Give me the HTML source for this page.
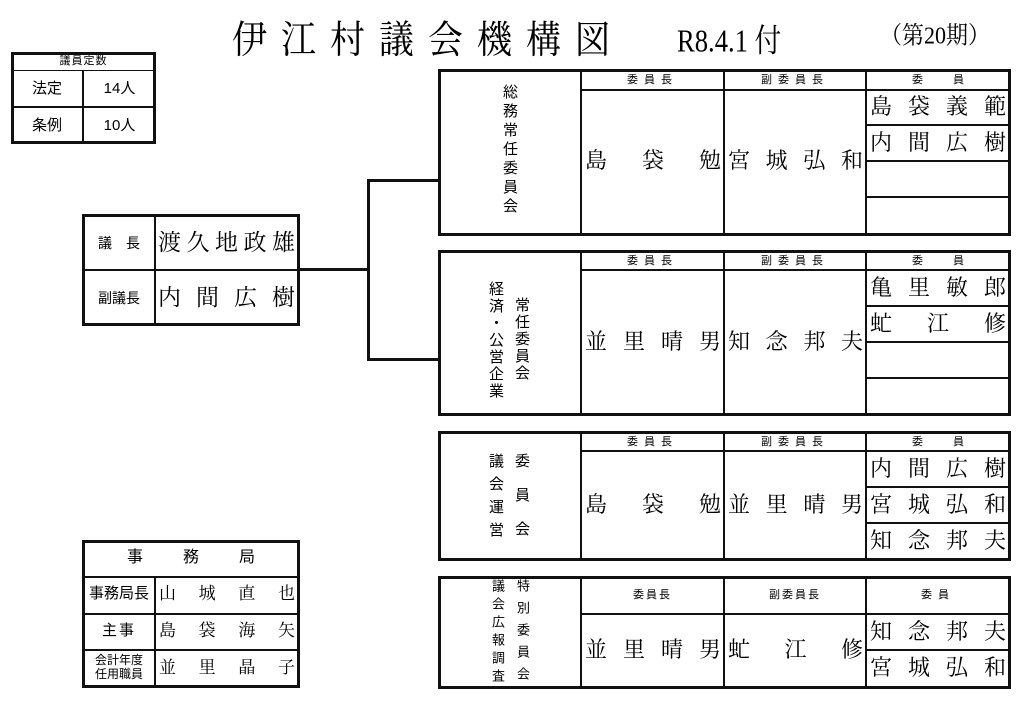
<!DOCTYPE html>
<html><head><meta charset="utf-8"><style>
body{margin:0;width:1022px;height:702px;background:#fff;position:relative;overflow:hidden;font-family:"Liberation Sans","Noto Sans CJK JP",sans-serif;color:#000}
div{position:absolute;box-sizing:border-box}
.b{border:3px solid #111}
.h{height:2px;background:#111}
.v{width:2px;background:#111}
.s{font-family:"Liberation Serif","Noto Serif CJK JP",serif}
.n{display:flex;justify-content:space-between;align-items:center;font-family:"Liberation Serif","Noto Serif CJK JP",serif;font-size:22px;line-height:1}
.hd{font-size:11px;text-align:center;letter-spacing:6px;line-height:1}
.vt{writing-mode:vertical-rl;font-size:15px;line-height:1}
.l{font-size:14px;text-align:center;line-height:1}
</style></head><body>
<!-- title -->
<div class="s" style="left:232px;top:10px;font-size:35px;letter-spacing:14px;white-space:nowrap;transform:scaleY(1.1);transform-origin:left top">伊江村議会機構図</div>
<div class="s" style="left:677px;top:16px;font-size:28px;white-space:nowrap;transform:scale(0.95,1.15);transform-origin:left top">R8.4.1 付</div>
<div class="s" style="left:880px;top:17px;font-size:22px;white-space:nowrap;transform:scaleY(1.1);transform-origin:left top">（第20期）</div>

<!-- quota -->
<div class="b" style="left:11px;top:52px;width:145px;height:92px"></div>
<div class="h" style="left:12px;top:70px;width:143px;height:1px"></div>
<div class="h" style="left:12px;top:106px;width:143px"></div>
<div class="v" style="left:82px;top:71px;height:72px"></div>
<div class="hd" style="left:12px;top:56px;width:143px;letter-spacing:1px">議員定数</div>
<div class="l" style="left:12px;top:81px;width:70px;font-size:15px">法定</div>
<div class="l" style="left:84px;top:81px;width:71px;font-size:15px">14人</div>
<div class="l" style="left:12px;top:118px;width:70px;font-size:15px">条例</div>
<div class="l" style="left:84px;top:118px;width:71px;font-size:15px">10人</div>

<!-- chair -->
<div class="b" style="left:82px;top:214px;width:218px;height:112px"></div>
<div class="h" style="left:84px;top:269px;width:214px"></div>
<div class="v" style="left:154px;top:216px;height:108px"></div>
<div class="l" style="left:84px;top:236px;width:70px">議　長</div>
<div class="l" style="left:84px;top:291px;width:70px">副議長</div>
<div class="n" style="left:158px;top:231px;width:137px;font-size:23px"><span>渡</span><span>久</span><span>地</span><span>政</span><span>雄</span></div>
<div class="n" style="left:158px;top:286px;width:137px;font-size:23px"><span>内</span><span>間</span><span>広</span><span>樹</span></div>
<!-- connectors -->
<div class="h" style="left:299px;top:268px;width:70px;height:3px"></div>
<div class="v" style="left:367px;top:179px;height:182px;width:3px"></div>
<div class="h" style="left:367px;top:179px;width:73px;height:3px"></div>
<div class="h" style="left:367px;top:358px;width:73px;height:3px"></div>

<!-- box1 -->
<div class="b" style="left:438px;top:69px;width:573px;height:167px"></div>
<div class="v" style="left:580px;top:71px;height:163px"></div>
<div class="v" style="left:723px;top:71px;height:163px"></div>
<div class="v" style="left:865px;top:71px;height:163px"></div>
<div class="h" style="left:581px;top:89px;width:428px"></div>
<div class="h" style="left:866px;top:124px;width:143px"></div>
<div class="h" style="left:866px;top:160px;width:143px"></div>
<div class="h" style="left:866px;top:196px;width:143px"></div>
<div class="hd" style="left:582px;top:75px;width:141px">委員長</div>
<div class="hd" style="left:725px;top:75px;width:140px">副委員長</div>
<div class="hd" style="left:867px;top:75px;width:142px;letter-spacing:30px;padding-left:30px">委員</div>
<div class="vt" style="left:502px;top:84px;letter-spacing:4px">総務常任委員会</div>
<div class="n" style="left:585px;top:150px;width:136px"><span>島</span><span>袋</span><span>勉</span></div>
<div class="n" style="left:728px;top:150px;width:135px"><span>宮</span><span>城</span><span>弘</span><span>和</span></div>
<div class="n" style="left:870px;top:96px;width:136px"><span>島</span><span>袋</span><span>義</span><span>範</span></div>
<div class="n" style="left:870px;top:132px;width:136px"><span>内</span><span>間</span><span>広</span><span>樹</span></div>

<!-- box2 -->
<div class="b" style="left:438px;top:250px;width:573px;height:166px"></div>
<div class="v" style="left:580px;top:252px;height:162px"></div>
<div class="v" style="left:723px;top:252px;height:162px"></div>
<div class="v" style="left:865px;top:252px;height:162px"></div>
<div class="h" style="left:581px;top:269px;width:428px"></div>
<div class="h" style="left:866px;top:305px;width:143px"></div>
<div class="h" style="left:866px;top:341px;width:143px"></div>
<div class="h" style="left:866px;top:377px;width:143px"></div>
<div class="hd" style="left:582px;top:256px;width:141px">委員長</div>
<div class="hd" style="left:725px;top:256px;width:140px">副委員長</div>
<div class="hd" style="left:867px;top:256px;width:142px;letter-spacing:30px;padding-left:30px">委員</div>
<div class="vt" style="left:488px;top:281px;letter-spacing:2px">経済・公営企業</div>
<div class="vt" style="left:514px;top:297px;letter-spacing:2px">常任委員会</div>
<div class="n" style="left:585px;top:331px;width:136px"><span>並</span><span>里</span><span>晴</span><span>男</span></div>
<div class="n" style="left:728px;top:331px;width:135px"><span>知</span><span>念</span><span>邦</span><span>夫</span></div>
<div class="n" style="left:870px;top:277px;width:136px"><span>亀</span><span>里</span><span>敏</span><span>郎</span></div>
<div class="n" style="left:870px;top:313px;width:136px"><span>虻</span><span>江</span><span>修</span></div>

<!-- box3 -->
<div class="b" style="left:438px;top:431px;width:573px;height:130px"></div>
<div class="v" style="left:580px;top:433px;height:126px"></div>
<div class="v" style="left:723px;top:433px;height:126px"></div>
<div class="v" style="left:865px;top:433px;height:126px"></div>
<div class="h" style="left:581px;top:450px;width:428px"></div>
<div class="h" style="left:866px;top:486px;width:143px"></div>
<div class="h" style="left:866px;top:522px;width:143px"></div>
<div class="hd" style="left:582px;top:437px;width:141px">委員長</div>
<div class="hd" style="left:725px;top:437px;width:140px">副委員長</div>
<div class="hd" style="left:867px;top:437px;width:142px;letter-spacing:30px;padding-left:30px">委員</div>
<div class="vt" style="left:488px;top:453px;letter-spacing:8px">議会運営</div>
<div class="vt" style="left:514px;top:453px;letter-spacing:19px">委員会</div>
<div class="n" style="left:585px;top:494px;width:136px"><span>島</span><span>袋</span><span>勉</span></div>
<div class="n" style="left:728px;top:494px;width:135px"><span>並</span><span>里</span><span>晴</span><span>男</span></div>
<div class="n" style="left:870px;top:458px;width:136px"><span>内</span><span>間</span><span>広</span><span>樹</span></div>
<div class="n" style="left:870px;top:494px;width:136px"><span>宮</span><span>城</span><span>弘</span><span>和</span></div>
<div class="n" style="left:870px;top:530px;width:136px"><span>知</span><span>念</span><span>邦</span><span>夫</span></div>

<!-- box4 -->
<div class="b" style="left:438px;top:576px;width:573px;height:113px"></div>
<div class="v" style="left:580px;top:578px;height:109px"></div>
<div class="v" style="left:723px;top:578px;height:109px"></div>
<div class="v" style="left:865px;top:578px;height:109px"></div>
<div class="h" style="left:581px;top:613px;width:428px"></div>
<div class="h" style="left:866px;top:649px;width:143px"></div>
<div class="hd" style="left:582px;top:590px;width:141px;letter-spacing:2px">委員長</div>
<div class="hd" style="left:725px;top:590px;width:140px;letter-spacing:2px">副委員長</div>
<div class="hd" style="left:867px;top:590px;width:142px;letter-spacing:6px">委員</div>
<div class="vt" style="left:491px;top:579px;font-size:13px;letter-spacing:5px">議会広報調査</div>
<div class="vt" style="left:516px;top:579px;font-size:13px;letter-spacing:9px">特別委員会</div>
<div class="n" style="left:585px;top:639px;width:136px"><span>並</span><span>里</span><span>晴</span><span>男</span></div>
<div class="n" style="left:728px;top:639px;width:135px"><span>虻</span><span>江</span><span>修</span></div>
<div class="n" style="left:870px;top:621px;width:136px"><span>知</span><span>念</span><span>邦</span><span>夫</span></div>
<div class="n" style="left:870px;top:657px;width:136px"><span>宮</span><span>城</span><span>弘</span><span>和</span></div>

<!-- office -->
<div class="b" style="left:82px;top:540px;width:218px;height:148px"></div>
<div class="h" style="left:84px;top:576px;width:214px"></div>
<div class="h" style="left:84px;top:613px;width:214px"></div>
<div class="h" style="left:84px;top:649px;width:214px"></div>
<div class="v" style="left:154px;top:577px;height:109px"></div>
<div class="l" style="left:84px;top:550px;width:214px;font-size:16px;letter-spacing:40px;padding-left:40px">事務局</div>
<div class="l" style="left:84px;top:586px;width:70px;font-size:15px">事務局長</div>
<div class="l" style="left:84px;top:623px;width:70px;font-size:15px;letter-spacing:2px">主事</div>
<div class="l" style="left:84px;top:653px;width:70px;font-size:12px;line-height:14px">会計年度<br>任用職員</div>
<div class="n" style="left:159px;top:585px;width:136px;font-size:17px"><span>山</span><span>城</span><span>直</span><span>也</span></div>
<div class="n" style="left:159px;top:622px;width:136px;font-size:17px"><span>島</span><span>袋</span><span>海</span><span>矢</span></div>
<div class="n" style="left:159px;top:659px;width:136px;font-size:17px"><span>並</span><span>里</span><span>晶</span><span>子</span></div>
</body></html>
